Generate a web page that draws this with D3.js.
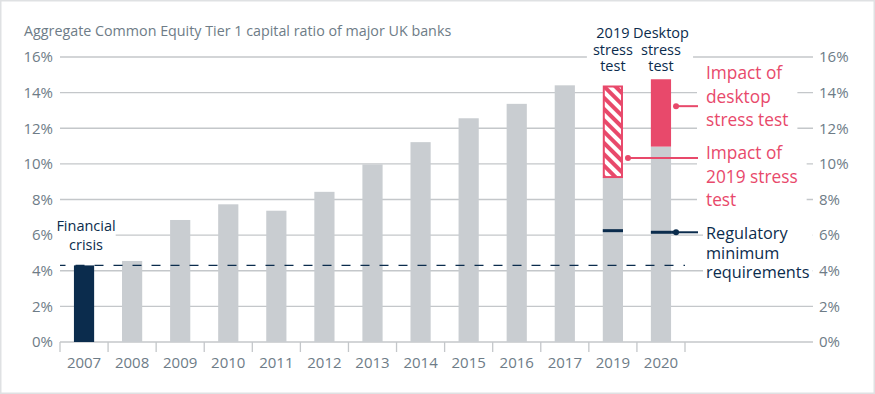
<!DOCTYPE html>
<html>
<head>
<meta charset="utf-8">
<script src="https://cdn.jsdelivr.net/npm/d3@7"></script>
<style>
  body { margin: 0; background: #fff; }
  svg { display: block; font-family: "Open Sans", sans-serif; }
</style>
</head>
<body>
<div class="container"></div>
<script>
// chart data
const years = ["2007", "2008", "2009", "2010", "2011", "2012", "2013", "2014", "2015", "2016", "2017", "2019", "2020"];
const ratio = [4.3, 4.55, 6.85, 7.73, 7.37, 8.43, 9.97, 11.22, 12.56, 13.37, 14.41, 9.26, 10.97];
const stressYears = ["2019", "2020"];
const stressTop = [14.4, 14.75];
const regMinimum = [6.25, 6.16];
const crisisLevel = 4.3;
const yTicks = [0, 2, 4, 6, 8, 10, 12, 14, 16];

const width = 875;
const height = 394;

const navy = "#0b2c4d";
const pink = "#e8496b";
const grey = "#c9cdd1";
const textGrey = "#6e7c87";

const svg = d3
  .select(".container")
  .append("svg")
  .attr("width", width)
  .attr("height", height);

// frame
svg
  .append("rect")
  .attr("x", 0.75)
  .attr("y", 0.75)
  .attr("width", width - 1.5)
  .attr("height", height - 1.5)
  .attr("fill", "none")
  .attr("stroke", "#dfe1e3")
  .attr("stroke-width", 1.5);

// hatch pattern for 2019 stress test
const defs = svg.append("defs");
const pattern = defs
  .append("pattern")
  .attr("id", "hatch")
  .attr("patternUnits", "userSpaceOnUse")
  .attr("width", 8)
  .attr("height", 8)
  .attr("patternTransform", "rotate(45)");
pattern.append("rect").attr("width", 8).attr("height", 8).attr("fill", "#fff");
pattern.append("rect").attr("width", 8).attr("height", 4).attr("fill", pink);

const xScale = d3
  .scaleBand()
  .domain(years)
  .range([60, 685])
  .paddingInner(0.58)
  .paddingOuter(0.29);

const yScale = d3.scaleLinear().domain([0, 16]).range([342, 57]);

// title
svg
  .append("text")
  .attr("x", 24)
  .attr("y", 36)
  .attr("fill", textGrey)
  .style("font-size", "14.3px")
  .text("Aggregate Common Equity Tier 1 capital ratio of major UK banks");

// gridlines
svg
  .append("g")
  .selectAll("line")
  .data(yTicks)
  .enter()
  .append("line")
  .attr("x1", 60)
  .attr("x2", 813)
  .attr("y1", (d) => yScale(d))
  .attr("y2", (d) => yScale(d))
  .attr("stroke", "#c4c7ca")
  .attr("stroke-width", 1.3);

// left and right axes
const leftAxis = d3
  .axisLeft(yScale)
  .tickValues(yTicks)
  .tickSize(0)
  .tickPadding(7)
  .tickFormat((d) => d + "%");
const rightAxis = d3
  .axisRight(yScale)
  .tickValues(yTicks)
  .tickSize(0)
  .tickPadding(6)
  .tickFormat((d) => d + "%");

svg.append("g").attr("transform", "translate(60,0)").call(leftAxis);
svg.append("g").attr("transform", "translate(813,0)").call(rightAxis);
svg.selectAll(".domain").remove();
svg
  .selectAll(".tick text")
  .attr("fill", textGrey)
  .style("font-size", "15px")
  .style("font-family", "'Open Sans', sans-serif");

// x axis: labels and separators
const xAxis = d3.axisBottom(xScale).tickSize(0).tickPadding(15);
const xg = svg.append("g").attr("transform", "translate(0,342)").call(xAxis);
xg.select(".domain").remove();
xg.selectAll("text")
  .attr("fill", textGrey)
  .style("font-size", "15px")
  .style("font-family", "'Open Sans', sans-serif");

const step = xScale.step();
svg
  .append("g")
  .selectAll("line")
  .data(d3.range(years.length + 1))
  .enter()
  .append("line")
  .attr("x1", (i) => 60 + i * step)
  .attr("x2", (i) => 60 + i * step)
  .attr("y1", 342)
  .attr("y2", 352)
  .attr("stroke", "#c4c7ca")
  .attr("stroke-width", 1.3);

// bars
svg
  .append("g")
  .selectAll("rect")
  .data(years)
  .enter()
  .append("rect")
  .attr("x", (d) => xScale(d))
  .attr("width", xScale.bandwidth())
  .attr("y", (d, i) => yScale(ratio[i]))
  .attr("height", (d, i) => yScale(0) - yScale(ratio[i]))
  .attr("fill", (d) => (d === "2007" ? navy : grey));

// stress test impacts
svg
  .append("g")
  .selectAll("rect")
  .data(stressYears)
  .enter()
  .append("rect")
  .attr("x", (d) => xScale(d) + (d === "2019" ? 1 : 0))
  .attr("width", (d) => xScale.bandwidth() - (d === "2019" ? 2 : 0))
  .attr("y", (d, i) => yScale(stressTop[i]) + (d === "2019" ? 1 : 0))
  .attr("height", (d, i) => yScale(ratio[years.indexOf(d)]) - yScale(stressTop[i]) - (d === "2019" ? 1 : 0))
  .attr("fill", (d) => (d === "2019" ? "url(#hatch)" : pink))
  .attr("stroke", (d) => (d === "2019" ? pink : "none"))
  .attr("stroke-width", 2);

// regulatory minimum marks
svg
  .append("g")
  .selectAll("line")
  .data(stressYears)
  .enter()
  .append("line")
  .attr("x1", (d) => xScale(d))
  .attr("x2", (d) => xScale(d) + xScale.bandwidth())
  .attr("y1", (d, i) => yScale(regMinimum[i]))
  .attr("y2", (d, i) => yScale(regMinimum[i]))
  .attr("stroke", navy)
  .attr("stroke-width", 3);

// crisis dashed line
svg
  .append("line")
  .attr("x1", 60)
  .attr("x2", 685)
  .attr("y1", yScale(crisisLevel))
  .attr("y2", yScale(crisisLevel))
  .attr("stroke", navy)
  .attr("stroke-width", 1.2)
  .attr("stroke-dasharray", "9,10")
  .attr("stroke-dashoffset", 3.5);

// text layers: white boxes first, then the words
const bgLayer = svg.append("g");
const textLayer = svg.append("g");

const textBlock = (lines, x, y, lh, color, anchor, size, padX) => {
  const t = textLayer
    .append("text")
    .attr("fill", color)
    .attr("text-anchor", anchor)
    .style("font-size", size + "px");
  lines.forEach((l, i) => {
    t.append("tspan").attr("x", x).attr("y", y + i * lh).text(l);
  });
  const b = t.node().getBBox();
  bgLayer
    .append("rect")
    .attr("fill", "#fff")
    .attr("x", b.x - padX)
    .attr("y", b.y)
    .attr("width", b.width + padX * 2)
    .attr("height", b.height);
};

// column headers
textBlock(["2019", "stress", "test"], xScale("2019") + xScale.bandwidth() / 2, 38, 16.5, navy, "middle", 14.5, 6);
textBlock(["Desktop", "stress", "test"], xScale("2020") + xScale.bandwidth() / 2, 38, 16.5, navy, "middle", 14.5, 4);

// financial crisis label
textBlock(["Financial", "crisis"], xScale("2007") + xScale.bandwidth() / 2 + 2, 231, 19, navy, "middle", 14.5, 0);

// right annotations
textBlock(["Impact of", "desktop", "stress test"], 706, 79, 23.5, pink, "start", 17.3, 9);
textBlock(["Impact of", "2019 stress", "test"], 706, 159, 23.5, pink, "start", 17.3, 9);
textBlock(["Regulatory", "minimum", "requirements"], 706, 239, 19.5, navy, "start", 16.3, 3);

// connector lines
const connectors = [
  { x: xScale("2020") + xScale.bandwidth() + 5, v: 13.24, c: pink },
  { x: xScale("2019") + xScale.bandwidth() + 5, v: 10.33, c: pink },
  { x: xScale("2020") + xScale.bandwidth() + 5, v: regMinimum[1], c: navy },
];
connectors.forEach((c) => {
  svg
    .append("line")
    .attr("x1", c.x)
    .attr("x2", 698)
    .attr("y1", yScale(c.v))
    .attr("y2", yScale(c.v))
    .attr("stroke", c.c)
    .attr("stroke-width", 2);
  svg
    .append("circle")
    .attr("cx", c.x)
    .attr("cy", yScale(c.v))
    .attr("r", 3)
    .attr("fill", c.c);
});
svg
  .append("line")
  .attr("x1", xScale("2020") + xScale.bandwidth())
  .attr("x2", xScale("2020") + xScale.bandwidth() + 5)
  .attr("y1", yScale(regMinimum[1]))
  .attr("y2", yScale(regMinimum[1]))
  .attr("stroke", navy)
  .attr("stroke-width", 3);
</script>
</body>
</html>
